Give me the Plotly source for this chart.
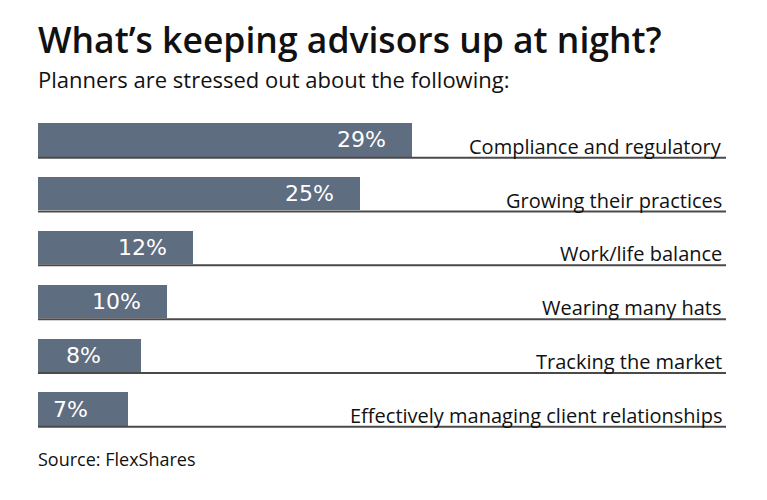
import plotly.graph_objects as go

categories = ["Compliance and regulatory", "Growing their practices", "Work/life balance",
              "Wearing many hats", "Tracking the market", "Effectively managing client relationships"]
values = [29, 25, 12, 10, 8, 7]
value_labels = ["29%", "25%", "12%", "10%", "8%", "7%"]

TITLE = "What’s keeping advisors up at night?"
SUBTITLE = "Planners are stressed out about the following:"
SOURCE = "Source: FlexShares"

BAR_COLOR = "#5f6d81"
LINE_COLOR = "#4a4a4a"
TXT_FONT = "'Open Sans', 'Noto Sans', sans-serif"
NUM_FONT = "'DejaVu Sans', Verdana, sans-serif"

W, H = 767, 500
OFF = 8  # page body margin
ML, MR, MT, MB = 38 - OFF, 41 + OFF, 113 - OFF, 63.5 + OFF
plot_h = H - MT - MB

def ypaper(px):
    # px is target page coordinate
    return (H - MB - (px - OFF)) / plot_h

idx = list(range(len(categories)))

fig = go.Figure()
fig.add_trace(go.Bar(
    x=values, y=idx, orientation="h", width=0.62,
    marker=dict(color=BAR_COLOR, line=dict(width=0)),
    hoverinfo="skip", showlegend=False,
))

shapes = []
annotations = []
for i, (cat, v, lab) in enumerate(zip(categories, values, value_labels)):
    shapes.append(dict(type="line", xref="paper", yref="y", x0=0, x1=1, y0=i + 0.33, y1=i + 0.33,
                       line=dict(color=LINE_COLOR, width=2)))
    annotations.append(dict(x=1, xref="paper", y=i + 0.33, yref="y", text=cat, showarrow=False,
                            xanchor="right", yanchor="bottom", yshift=-4, xshift=-2,
                            font=dict(family=TXT_FONT, size=20, color="#111111")))
    annotations.append(dict(x=v, xref="x", y=i, yref="y", text=lab, showarrow=False,
                            xanchor="left", yanchor="middle", xshift=-77,
                            font=dict(family=NUM_FONT, size=22, color="white")))

annotations += [
    dict(x=0, xref="paper", y=ypaper(39), yref="paper", text=TITLE, showarrow=False,
         xanchor="left", yanchor="middle", xshift=-2,
         font=dict(family=TXT_FONT, size=35.5, weight=600, color="#111111")),
    dict(x=0, xref="paper", y=ypaper(79), yref="paper", text=SUBTITLE, showarrow=False,
         xanchor="left", yanchor="middle", xshift=-2,
         font=dict(family=TXT_FONT, size=22, color="#111111")),
    dict(x=0, xref="paper", y=ypaper(460), yref="paper", text=SOURCE, showarrow=False,
         xanchor="left", yanchor="middle", xshift=-2,
         font=dict(family=TXT_FONT, size=18, color="#111111")),
]

fig.update_layout(
    width=W, height=H,
    margin=dict(l=ML, r=MR, t=MT, b=MB, pad=0),
    paper_bgcolor="white", plot_bgcolor="white",
    xaxis=dict(range=[0, 688 / 12.88], visible=False, fixedrange=True),
    yaxis=dict(range=[5.5, -0.5], visible=False, fixedrange=True),
    shapes=shapes, annotations=annotations,
    bargap=0,
)

fig.write_html("out.html")
